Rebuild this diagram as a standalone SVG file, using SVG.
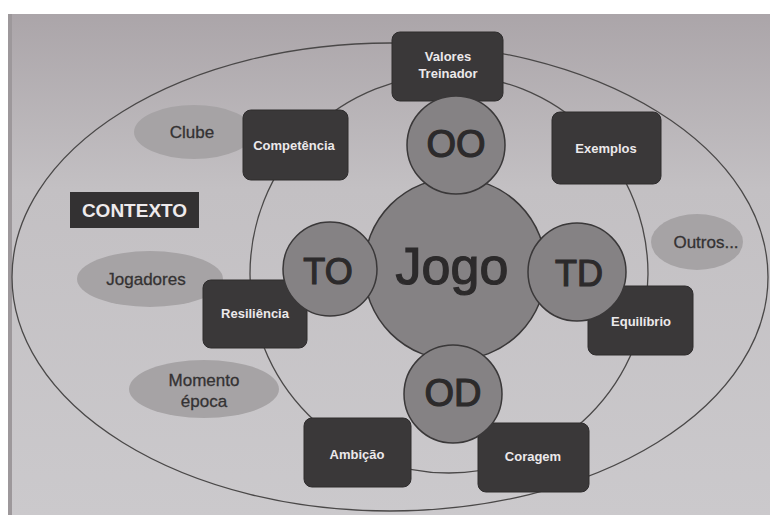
<svg xmlns="http://www.w3.org/2000/svg" width="770" height="515" viewBox="0 0 770 515">
<defs>
<linearGradient id="paper" x1="0" y1="0" x2="0" y2="1">
<stop offset="0" stop-color="#aba5a9"/>
<stop offset="0.35" stop-color="#c3c0c3"/>
<stop offset="1" stop-color="#cbc9cc"/>
</linearGradient>
<style>
.ring{fill:none;stroke:#4a4848;stroke-width:1.3}
.box{fill:#3a3839;stroke:#2e2c2d;stroke-width:1}
.boxt{font-family:"Liberation Sans",Arial,sans-serif;font-weight:bold;font-size:13px;fill:#ece9eb;text-anchor:middle}
.ell{fill:#a6a3a5}
.ellt{font-family:"Liberation Sans",Arial,sans-serif;font-size:17px;fill:#343233;text-anchor:middle;stroke:#343233;stroke-width:0.3}
.circ{fill:#858284;stroke:#3a3839;stroke-width:1.5}
.ct{font-family:"Liberation Sans",Arial,sans-serif;fill:#2c2a2b;text-anchor:middle;stroke:#2c2a2b;stroke-width:1.2}
</style>
</defs>
<rect x="0" y="0" width="770" height="515" fill="#ffffff"/>
<rect x="8" y="14" width="762" height="501" fill="url(#paper)"/>
<rect x="8" y="14" width="4" height="501" fill="#9d989b"/>

<g id="connectors">
<ellipse class="ring" cx="390" cy="277" rx="378" ry="234"/>
<circle class="ring" cx="449" cy="274" r="199"/>
</g>

<g id="contexto">
<rect x="70" y="192" width="129" height="36" fill="#333132"/>
<text x="134.5" y="217" font-family="Liberation Sans,Arial,sans-serif" font-weight="bold" font-size="19" fill="#eeeaec" text-anchor="middle">CONTEXTO</text>
</g>

<g id="clube"><ellipse class="ell" cx="194" cy="132" rx="60" ry="27"/><text class="ellt" x="192" y="138">Clube</text></g>
<g id="jogadores"><ellipse class="ell" cx="150" cy="279" rx="73" ry="28"/><text class="ellt" x="146" y="285">Jogadores</text></g>
<g id="momento"><ellipse class="ell" cx="204" cy="389" rx="75" ry="29"/><text class="ellt" x="204" y="386">Momento</text><text class="ellt" x="204" y="407">época</text></g>
<g id="outros"><ellipse class="ell" cx="697" cy="242" rx="46" ry="28"/><text class="ellt" x="706" y="248">Outros...</text></g>

<g id="valores"><rect class="box" x="392" y="32" width="111" height="69" rx="8"/><text class="boxt" x="448" y="61">Valores</text><text class="boxt" x="448" y="78">Treinador</text></g>
<g id="competencia"><rect class="box" x="243" y="110" width="105" height="70" rx="8"/><text class="boxt" x="294" y="150">Competência</text></g>
<g id="exemplos"><rect class="box" x="552" y="112" width="109" height="72" rx="8"/><text class="boxt" x="606" y="153">Exemplos</text></g>
<g id="resiliencia"><rect class="box" x="203" y="280" width="104" height="68" rx="8"/><text class="boxt" x="255" y="318">Resiliência</text></g>
<g id="equilibrio"><rect class="box" x="588" y="286" width="105" height="69" rx="8"/><text class="boxt" x="641" y="326">Equilíbrio</text></g>
<g id="ambicao"><rect class="box" x="304" y="418" width="107" height="69" rx="8"/><text class="boxt" x="357" y="459">Ambição</text></g>
<g id="coragem"><rect class="box" x="478" y="423" width="111" height="69" rx="8"/><text class="boxt" x="533" y="461">Coragem</text></g>

<g id="jogo"><circle class="circ" cx="455" cy="269" r="91"/><text class="ct" x="452" y="284" font-size="52">Jogo</text></g>
<g id="oo"><circle class="circ" cx="456" cy="145" r="49"/><text class="ct" x="456" y="157" font-size="38">OO</text></g>
<g id="to"><circle class="circ" cx="330" cy="269" r="47"/><text class="ct" x="328" y="284" font-size="36">TO</text></g>
<g id="td"><circle class="circ" cx="577" cy="272" r="49"/><text class="ct" x="579" y="286" font-size="36">TD</text></g>
<g id="od"><circle class="circ" cx="453" cy="394" r="49"/><text class="ct" x="453" y="406" font-size="38">OD</text></g>
</svg>
